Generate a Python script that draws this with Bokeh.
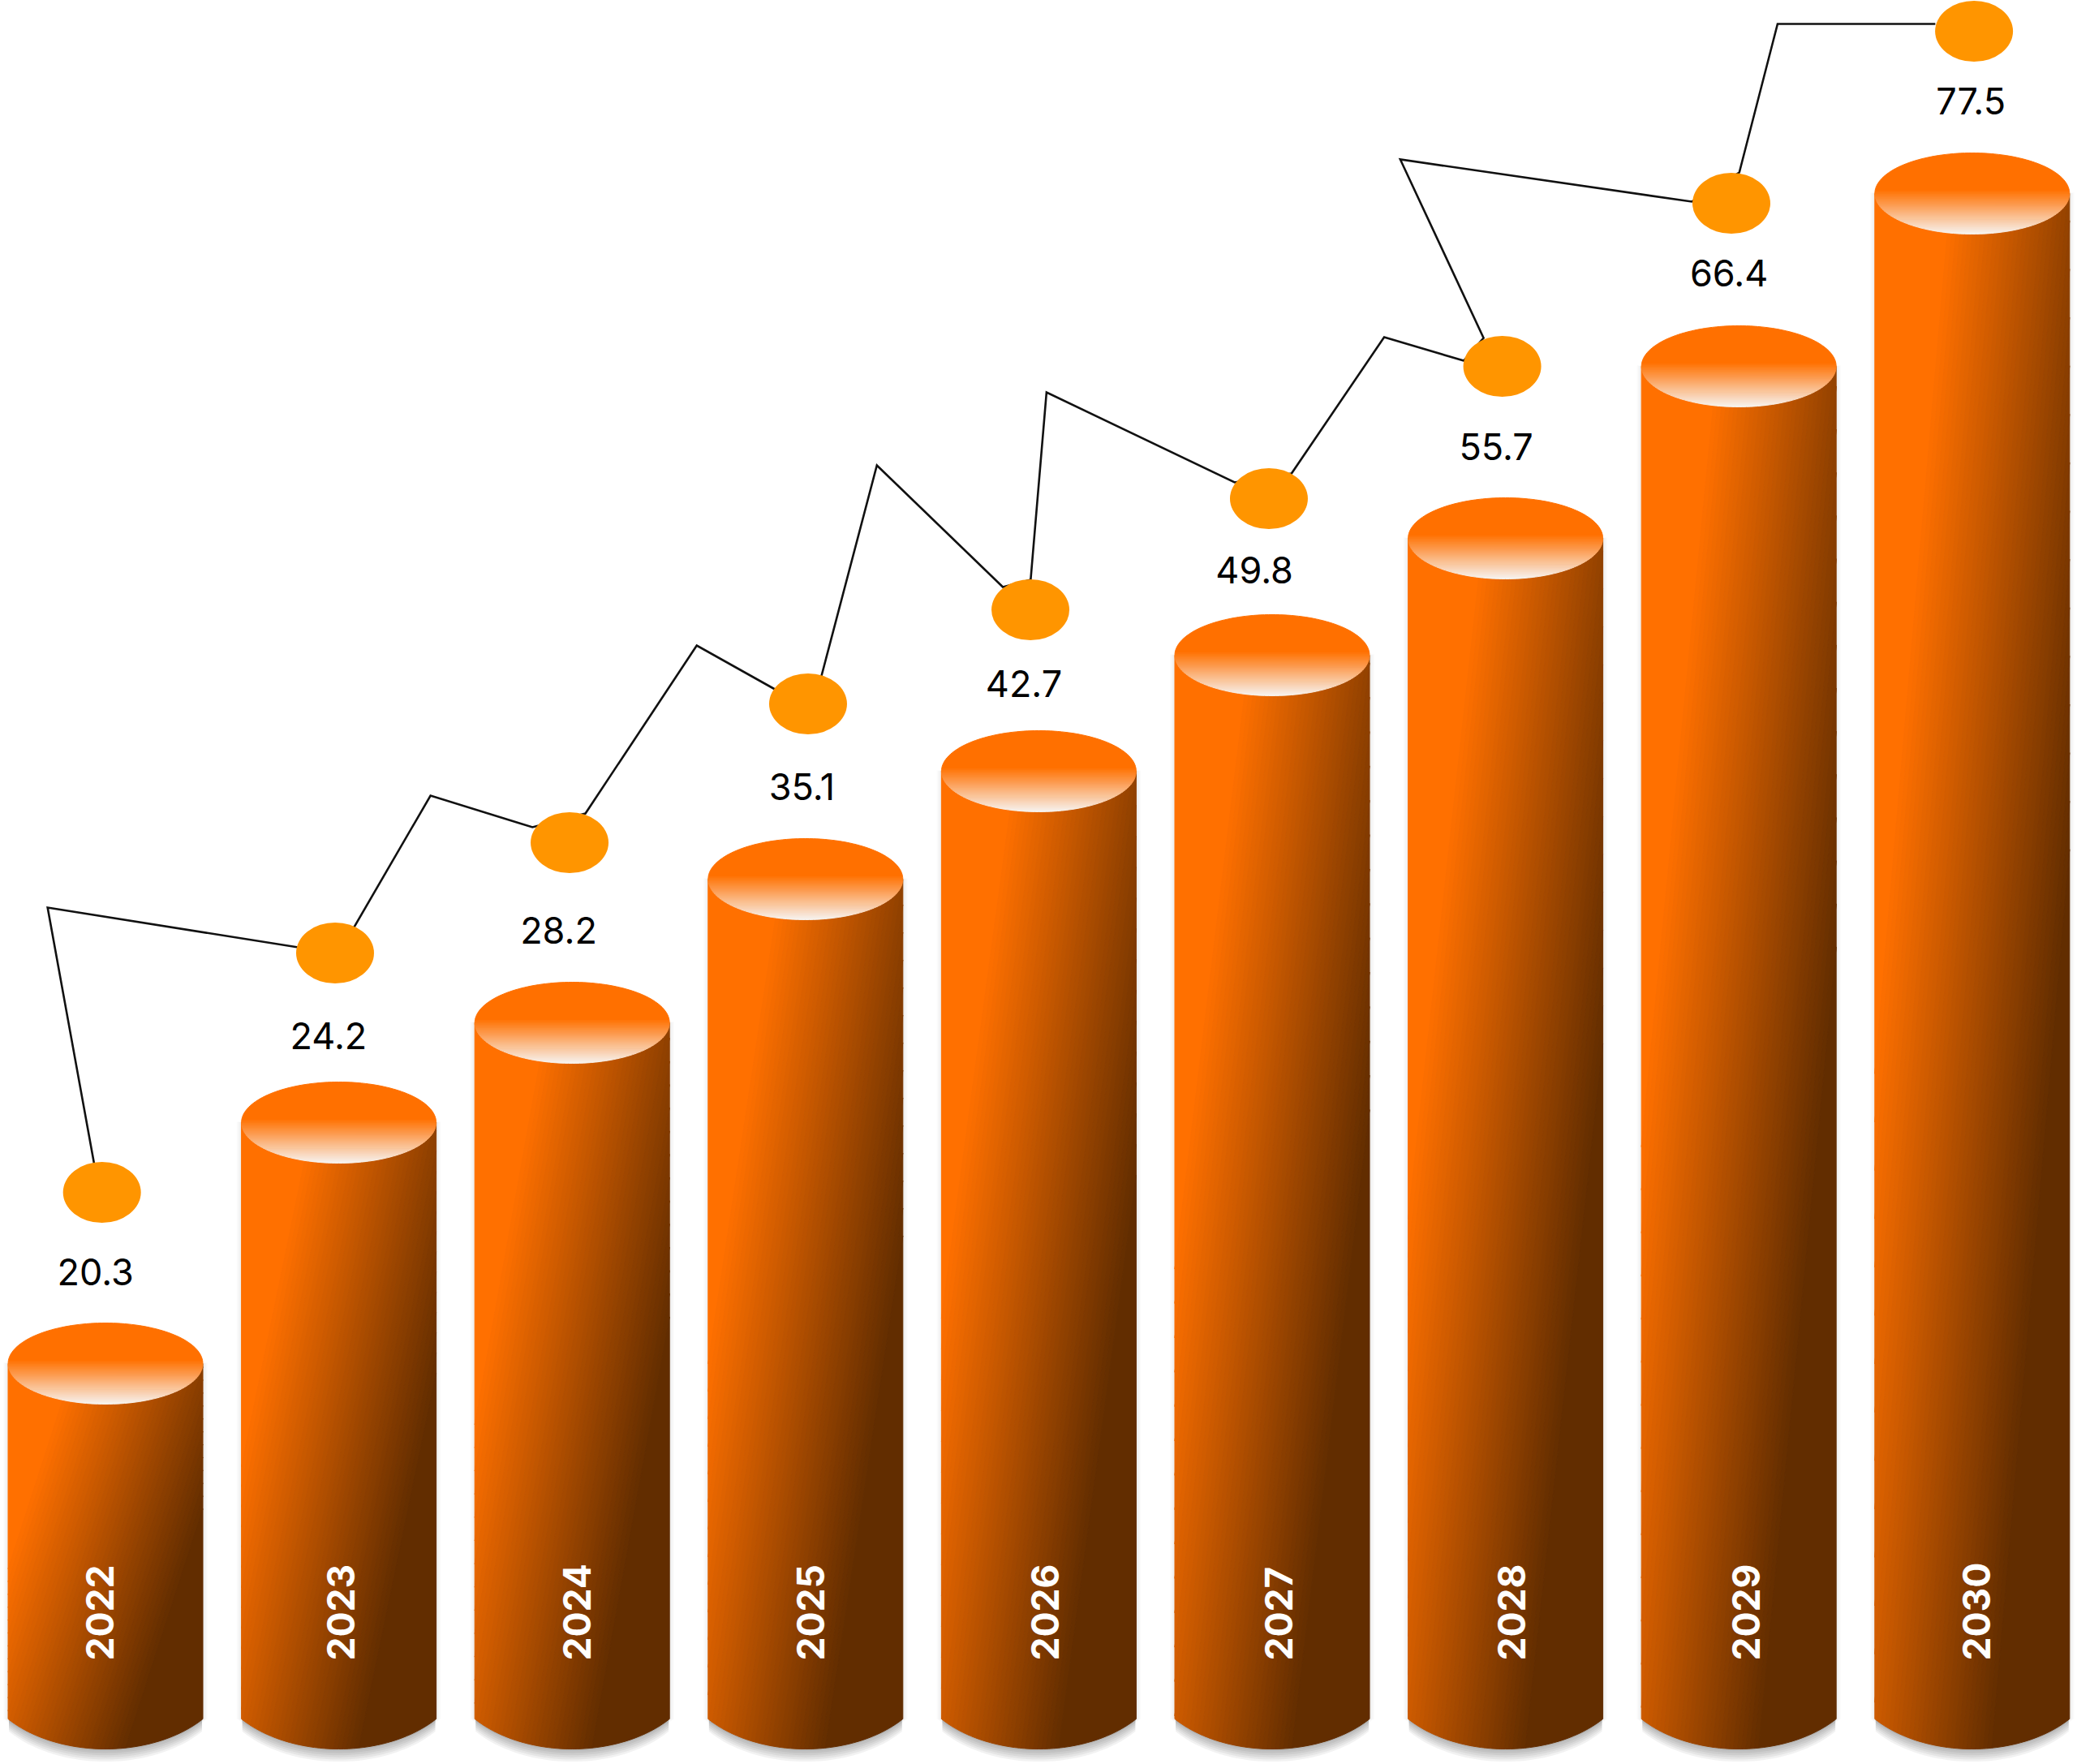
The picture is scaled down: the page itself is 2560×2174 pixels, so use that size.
import math
from bokeh.plotting import figure
from bokeh.models import Range1d
from bokeh.embed import file_html
from bokeh.resources import INLINE
from bokeh.core.properties import value

# ---- data ----
years = ["2022", "2023", "2024", "2025", "2026", "2027", "2028", "2029", "2030"]
values = ["20.3", "24.2", "28.2", "35.1", "42.7", "49.8", "55.7", "66.4", "77.5"]
# the cylinders are illustrative: their levels are not proportional to the values
bar_level = [494, 791, 914, 1091, 1224, 1367, 1511, 1723, 1936]
dot_cat = [-0.015, 0.984, 1.989, 3.011, 3.964, 4.986, 5.986, 6.968, 8.008]
dot_level = [705, 1000, 1136, 1307, 1423, 1560, 1723, 1924, 2136]
# connector: leaves each dot's rim, goes to an elbow, arrives at the next dot's rim
out_cat = [-0.049, 1.064, 2.057, 3.068, 3.965, 5.083, 5.906, 7.002]
out_level = [741, 1031, 1172, 1341, 1460, 1591, 1758, 1962]
elbow_cat = [-0.248, 1.393, 2.534, 3.306, 4.033, 5.48, 5.549, 7.166]
elbow_level = [1056, 1194, 1379, 1601, 1691, 1759, 1978, 2145]
in_cat = [0.825, 1.830, 2.869, 3.846, 4.839, 5.821, 6.798, 7.842]
in_level = [1007, 1155, 1325, 1451, 1580, 1730, 1926, 2145]
label_cat = [-0.043, 0.956, 1.942, 2.985, 3.936, 4.924, 5.960, 6.958, 7.994]
label_level = [607, 898, 1028, 1205, 1332, 1472, 1624, 1838, 2050]
year_cat = [-0.023, 1.008, 2.02, 3.021, 4.026, 5.027, 6.026, 7.03, 8.018]

# ---- layout / style ----
W, H = 2560, 2174
PITCH = 287.6          # px per category
X0 = -129.5 / PITCH
BAR_W = 240 / PITCH
CAP_H = 50             # half height of top ellipse
FOOT = 56              # level where the side ends
ARC = 37               # depth of bottom arc
YEAR_BASE = 128
ORANGE = (255, 112, 0)
BROWN = (98, 45, 0)
PALE = (247, 240, 234)
N_BANDS = 44
N_CAP = 26


def lerp(a, b, t):
    t = max(0.0, min(1.0, t))
    return "#%02x%02x%02x" % tuple(round(a[i] + (b[i] - a[i]) * t) for i in range(3))


def clip(poly, fn, lo, hi):
    """Keep the part of a convex polygon where lo <= fn(pt) <= hi."""
    def half(pts, sign, lim):
        out = []
        for i in range(len(pts)):
            a, b = pts[i], pts[(i + 1) % len(pts)]
            da, db = sign * (fn(a) - lim), sign * (fn(b) - lim)
            if da >= 0:
                out.append(a)
            if (da >= 0) != (db >= 0):
                t = da / (da - db)
                out.append((a[0] + (b[0] - a[0]) * t, a[1] + (b[1] - a[1]) * t))
        return out
    p1 = half(poly, 1, lo)
    return half(p1, -1, hi) if p1 else []


def body_poly(i, grow=0.0, drop=0.0):
    half_w = BAR_W / 2 + grow / PITCH
    top = bar_level[i] + grow * 0.2
    pts = [(i - half_w, top), (i + half_w, top), (i + half_w, FOOT - drop)]
    a = 1.3
    base = math.sqrt(1 - 1 / a ** 2)
    for k in range(1, 40):
        s = 1 - 2 * k / 40
        y = FOOT - drop - ARC * (math.sqrt(1 - (s / a) ** 2) - base) / (1 - base)
        pts.append((i + s * half_w, y))
    pts.append((i - half_w, FOOT - drop))
    return pts


p = figure(width=W, height=H, output_backend="svg", toolbar_location=None,
           x_range=Range1d(X0, X0 + W / PITCH), y_range=Range1d(0, H),
           min_border=0, outline_line_color=None, background_fill_color="white",
           border_fill_color="white")
p.axis.visible = False
p.grid.visible = False

# soft shadows
sx, sy, sa = [], [], []
for i in range(len(years)):
    for e in range(1, 7):
        poly = body_poly(i, grow=e)
        sx.append([q[0] for q in poly]); sy.append([q[1] for q in poly]); sa.append(0.012)
    for k in range(1, 7):
        poly = body_poly(i, grow=-1, drop=k * 2.6)
        sx.append([q[0] for q in poly]); sy.append([q[1] for q in poly]); sa.append(0.05)
p.patches(sx, sy, fill_color="#000000", fill_alpha=sa, line_color=None)

# cylinder bodies as bands of a diagonal gradient
bx, by, bc = [], [], []
for i in range(len(years)):
    poly = body_poly(i)
    left, height = i - BAR_W / 2, bar_level[i] + CAP_H - (FOOT - ARC)

    def grad(q, left=left, height=height, lvl=bar_level[i] + CAP_H):
        u = (q[0] - left) / BAR_W
        v = (lvl - q[1]) / height
        return 1.06 * u + 0.75 * v - 0.41
    edges = [-9] + [k / N_BANDS for k in range(1, N_BANDS)] + [9]
    for k in range(N_BANDS):
        piece = clip(poly, grad, edges[k], edges[k + 1])
        if len(piece) > 2:
            bx.append([q[0] for q in piece]); by.append([q[1] for q in piece])
            bc.append(lerp(ORANGE, BROWN, k / (N_BANDS - 1)))
p.patches(bx, by, fill_color=bc, line_color=bc, line_width=1)

# top caps as horizontal bands
cx, cy, cc = [], [], []
for i in range(len(years)):
    ell = [(i + BAR_W / 2 * math.cos(2 * math.pi * k / 160),
            bar_level[i] + CAP_H * math.sin(2 * math.pi * k / 160)) for k in range(160)]

    def vert(q, lvl=bar_level[i]):
        return (lvl + CAP_H - q[1]) / (2 * CAP_H)
    edges = [-1] + [0.47 + 0.53 * k / N_CAP for k in range(N_CAP)] + [2]
    for k in range(N_CAP + 1):
        piece = clip(ell, vert, edges[k], edges[k + 1])
        if len(piece) > 2:
            cx.append([q[0] for q in piece]); cy.append([q[1] for q in piece])
            cc.append(lerp(ORANGE, PALE, k / N_CAP))
p.patches(cx, cy, fill_color=cc, line_color=cc, line_width=1)

# connector
line_x, line_y = [], []
for k in range(len(elbow_cat)):
    line_x += [out_cat[k], elbow_cat[k], in_cat[k]]
    line_y += [out_level[k], elbow_level[k], in_level[k]]
p.line(line_x, line_y, line_color="#111111", line_width=2.6, line_join="miter")

# dots
p.ellipse(dot_cat, dot_level, width=96 / PITCH, height=75, fill_color="#FF9500", line_color=None)

# texts
p.text(label_cat, label_level, text=values, text_font=value("Inter"), text_font_size="45px",
       text_color="#000000", text_align="center", text_baseline="middle")
p.text(year_cat, [YEAR_BASE] * len(years), text=years, angle=math.pi / 2,
       text_font=value("Inter"), text_font_style="bold", text_font_size="46px",
       text_color="#ffffff", text_align="left", text_baseline="middle")

open("out.html", "w").write(file_html(p, INLINE))
